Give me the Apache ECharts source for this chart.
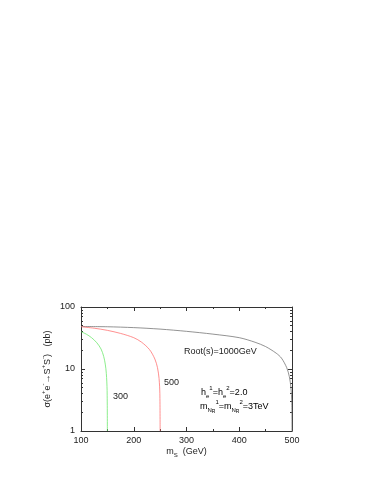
<!DOCTYPE html>
<html><head><meta charset="utf-8">
<script src="https://cdn.jsdelivr.net/npm/echarts@6/dist/echarts.min.js"></script>
<style>html,body{margin:0;padding:0;background:#fff}#c{width:374px;height:484px}</style>
</head><body><div id="c"></div>
<script>
// Data
const xTicks = [100, 200, 300, 400, 500];
const yTicks = [1, 10, 100];
const yMinorTicks = [2,3,4,5,6,7,8,9,20,30,40,50,60,70,80,90];

// sqrt(s) = 1000 GeV (black)
const mS1000 = [100,150,200,250,300,350,400,430,450,470,480,490,495,498,499.5,500];
const sig1000 = [48.5,48,46.5,44,40.5,36.5,32,27,23,18,15,10.5,7.5,5,3,1];
// sqrt(s) = 500 GeV (red)
const mS500 = [100,125,150,175,200,215,230,240,245,248,249.5,250];
const sig500 = [48,45.5,42,37.5,32,27,20.5,14.5,10.5,7,4,1];
// sqrt(s) = 300 GeV (green)
const mS300 = [100,110,120,130,138,143,146,148,149.5,150];
const sig300 = [40,36.5,32,26.5,21,16,12,8.5,4.5,1];

const FONT = 'Liberation Sans';
const AX = '#333';
function pairs(xs, ys){ return xs.map((x,i)=>[x, ys[i]]); }

const chart = echarts.init(document.getElementById('c'), null, {renderer:'canvas'});
const subRich = {
  m:{fontSize:9, fontFamily:FONT, color:'#222', lineHeight:15, verticalAlign:'middle'},
  sp:{fontSize:6, fontFamily:FONT, color:'#222', lineHeight:6, verticalAlign:'top'},
  sb:{fontSize:6, fontFamily:FONT, color:'#222', lineHeight:6, verticalAlign:'bottom', padding:[0,0,1,0]},
  ssb:{fontSize:5, fontFamily:FONT, color:'#222', lineHeight:5, verticalAlign:'bottom'}
};

const baseX = {
  type:'value', min:100, max:500, interval:100,
  axisLine:{show:true, lineStyle:{color:AX, width:1}},
  splitLine:{show:false}
};
const baseY = {
  type:'log', logBase:10, min:1, max:100,
  axisLine:{show:true, lineStyle:{color:AX, width:1}},
  splitLine:{show:false}
};

chart.setOption({
  animation:false,
  backgroundColor:'#fff',
  grid:{left:81, right:82, top:307, bottom:53, containLabel:false},
  xAxis:[
    Object.assign({}, baseX, {
      position:'bottom',
      name:'{m|m}{sb|S}{m|  (GeV)}', nameLocation:'middle', nameGap:13,
      nameTextStyle:{rich:subRich},
      axisTick:{show:true, inside:true, length:4, lineStyle:{color:AX}},
      minorTick:{show:true, splitNumber:2, length:2, lineStyle:{color:AX}},
      axisLabel:{show:true, fontSize:9, fontFamily:FONT, color:'#222', margin:5,
        customValues:xTicks}
    }),
    Object.assign({}, baseX, {
      position:'top',
      axisTick:{show:true, inside:true, length:4, lineStyle:{color:AX}},
      minorTick:{show:true, splitNumber:2, length:2, lineStyle:{color:AX}},
      axisLabel:{show:false}
    })
  ],
  yAxis:[
    Object.assign({}, baseY, {
      position:'left',
      name:'{m|σ(e}{sp|+}{m|e}{sp|-}{m|→S}{sp|+}{m|S}{sp|-}{m|)   (pb)}',
      nameLocation:'middle', nameGap:26, nameRotate:90, nameMoveOverlap:false,
      nameTextStyle:{rich:subRich},
      axisTick:{show:true, inside:true, length:4, lineStyle:{color:AX}},
      axisLabel:{show:true, fontSize:9, fontFamily:FONT, color:'#222', margin:6,
        customValues:yTicks}
    }),
    Object.assign({}, baseY, {
      position:'right',
      axisTick:{show:true, inside:true, length:4, lineStyle:{color:AX}},
      axisLabel:{show:false}
    }),
    Object.assign({}, baseY, {
      position:'left',
      axisLine:{show:false},
      axisTick:{show:true, inside:true, length:2, lineStyle:{color:AX}, customValues:yMinorTicks},
      axisLabel:{show:false}
    }),
    Object.assign({}, baseY, {
      position:'right',
      axisLine:{show:false},
      axisTick:{show:true, inside:true, length:2, lineStyle:{color:AX}, customValues:yMinorTicks},
      axisLabel:{show:false}
    })
  ],
  series:[
    {type:'line', xAxisIndex:0, yAxisIndex:0, data:pairs(mS1000, sig1000), showSymbol:false, smooth:0.3,
      lineStyle:{color:'#777', width:0.8}},
    {type:'line', xAxisIndex:0, yAxisIndex:0, data:pairs(mS500, sig500), showSymbol:false, smooth:0.3,
      lineStyle:{color:'#ff7373', width:0.8}},
    {type:'line', xAxisIndex:0, yAxisIndex:0, data:pairs(mS300, sig300), showSymbol:false, smooth:0.3,
      lineStyle:{color:'#6fe86f', width:0.8}}
  ],
  graphic:[
    {type:'text', left:184, top:347, style:{text:'Root(s)=1000GeV', font:'9px "Liberation Sans"', fill:'#222'}},
    {type:'text', left:164, top:378, style:{text:'500', font:'9px "Liberation Sans"', fill:'#222'}},
    {type:'text', left:113, top:392, style:{text:'300', font:'9px "Liberation Sans"', fill:'#222'}},
    {type:'text', left:201, top:385, style:{text:'{m|h}{sb|e}{sp|1}{m|=h}{sb|e}{sp|2}{m|=2.0}', rich:subRich}},
    {type:'text', left:200, top:399, style:{text:'{m|m}{sb|N}{ssb|R}{sp|1}{m|=m}{sb|N}{ssb|R}{sp|2}{m|=3TeV}', rich:subRich}}
  ]
});
</script>
</body></html>
